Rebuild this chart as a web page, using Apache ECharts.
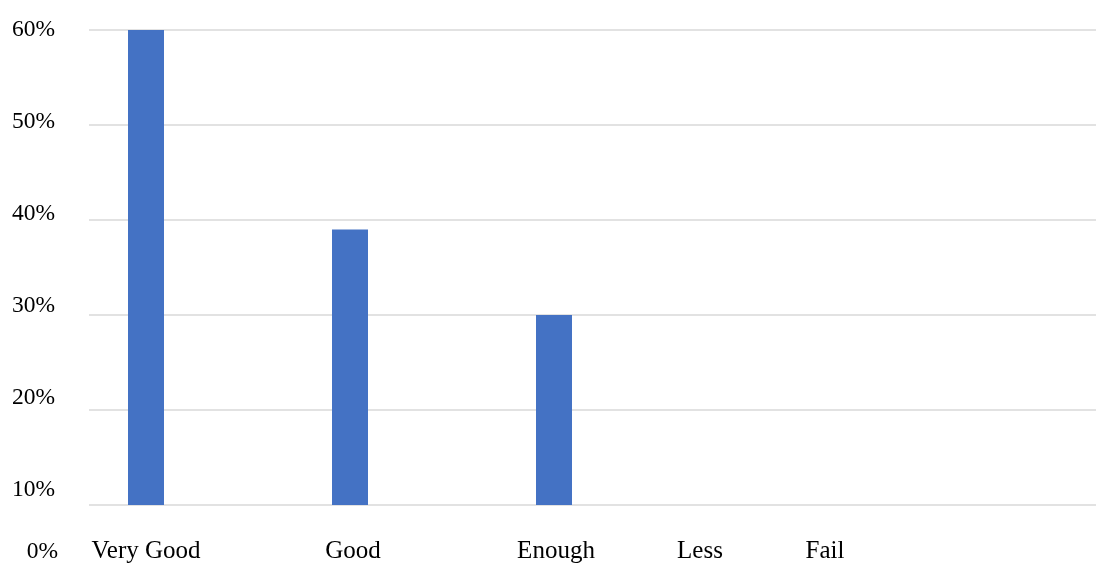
<!DOCTYPE html>
<html>
<head>
<meta charset="utf-8">
<title>Ratings</title>
<script src="https://cdn.jsdelivr.net/npm/echarts@6/dist/echarts.min.js"></script>
<style>
  html, body { margin: 0; padding: 0; background: #ffffff; }
  #chart { width: 1097px; height: 563px; }
</style>
</head>
<body>
<div id="chart"></div>
<script>
// Rating categories and the share of answers in each (percent)
const categories = ['Very Good', 'Good', 'Enough', 'Less', 'Fail'];
const shares = [60, 39, 30, 0, 0];

// Value scale for bars and grid lines, and the printed percentage ticks
const valueMin = 10;
const valueMax = 60;
const valueStep = 10;
const tickMin = 0;

// Horizontal nudges (px) for the category captions
const captionShift = [0, 3, 2, -58, -137];

const FONT = 'Liberation Serif, Times New Roman, serif';
const BAR_COLOR = '#4472C4';

const captionRich = {};
captionShift.forEach(function (s, i) {
  captionRich['c' + i] = {
    fontFamily: FONT, fontSize: 25, color: '#000', lineHeight: 26,
    padding: s >= 0 ? [0, 0, 0, 2 * s] : [0, -2 * s, 0, 0]
  };
});

const chart = echarts.init(document.getElementById('chart'), null, { renderer: 'canvas' });

chart.setOption({
  animation: false,
  backgroundColor: '#ffffff',
  grid: [
    // bars
    { left: 44, width: 1020, top: 30, height: 475, outerBoundsMode: 'none', containLabel: false },
    // horizontal grid lines
    { left: 89, width: 1007, top: 30, height: 475, outerBoundsMode: 'none', containLabel: false },
    // percentage captions
    { left: 89, width: 1007, top: 30, height: 552, outerBoundsMode: 'none', containLabel: false }
  ],
  xAxis: [
    {
      gridIndex: 0, type: 'category', data: categories,
      axisLine: { show: false }, axisTick: { show: false },
      axisLabel: {
        interval: 0, margin: 33, hideOverlap: false,
        formatter: function (v, i) { return '{c' + i + '|' + v + '}'; },
        rich: captionRich
      }
    },
    { gridIndex: 1, type: 'value', min: 0, max: 1, show: false },
    { gridIndex: 2, type: 'value', min: 0, max: 1, show: false }
  ],
  yAxis: [
    { gridIndex: 0, type: 'value', min: valueMin, max: valueMax, interval: valueStep, show: false },
    {
      gridIndex: 1, type: 'value', min: valueMin, max: valueMax, interval: valueStep,
      axisLine: { show: false }, axisTick: { show: false }, axisLabel: { show: false },
      splitLine: { show: true, lineStyle: { color: '#d9d9d9', width: 1.5 } }
    },
    {
      gridIndex: 2, type: 'value', min: tickMin, max: valueMax, interval: valueStep,
      axisLine: { show: false }, axisTick: { show: false }, splitLine: { show: false },
      axisLabel: {
        margin: 31, hideOverlap: false,
        formatter: function (v) { return (v === tickMin ? '{z|' : '{p|') + v + '%}'; },
        rich: {
          p: { fontFamily: FONT, fontSize: 23.5, color: '#000', lineHeight: 24, padding: [0, 3, 0, 0] },
          z: { fontFamily: FONT, fontSize: 23.5, color: '#000', lineHeight: 24, padding: [0, 0, 60, 0] }
        }
      }
    }
  ],
  series: [
    {
      type: 'bar',
      xAxisIndex: 0, yAxisIndex: 0,
      data: shares,
      barWidth: 36,
      clip: true,
      itemStyle: { color: BAR_COLOR }
    }
  ]
});
</script>
</body>
</html>
